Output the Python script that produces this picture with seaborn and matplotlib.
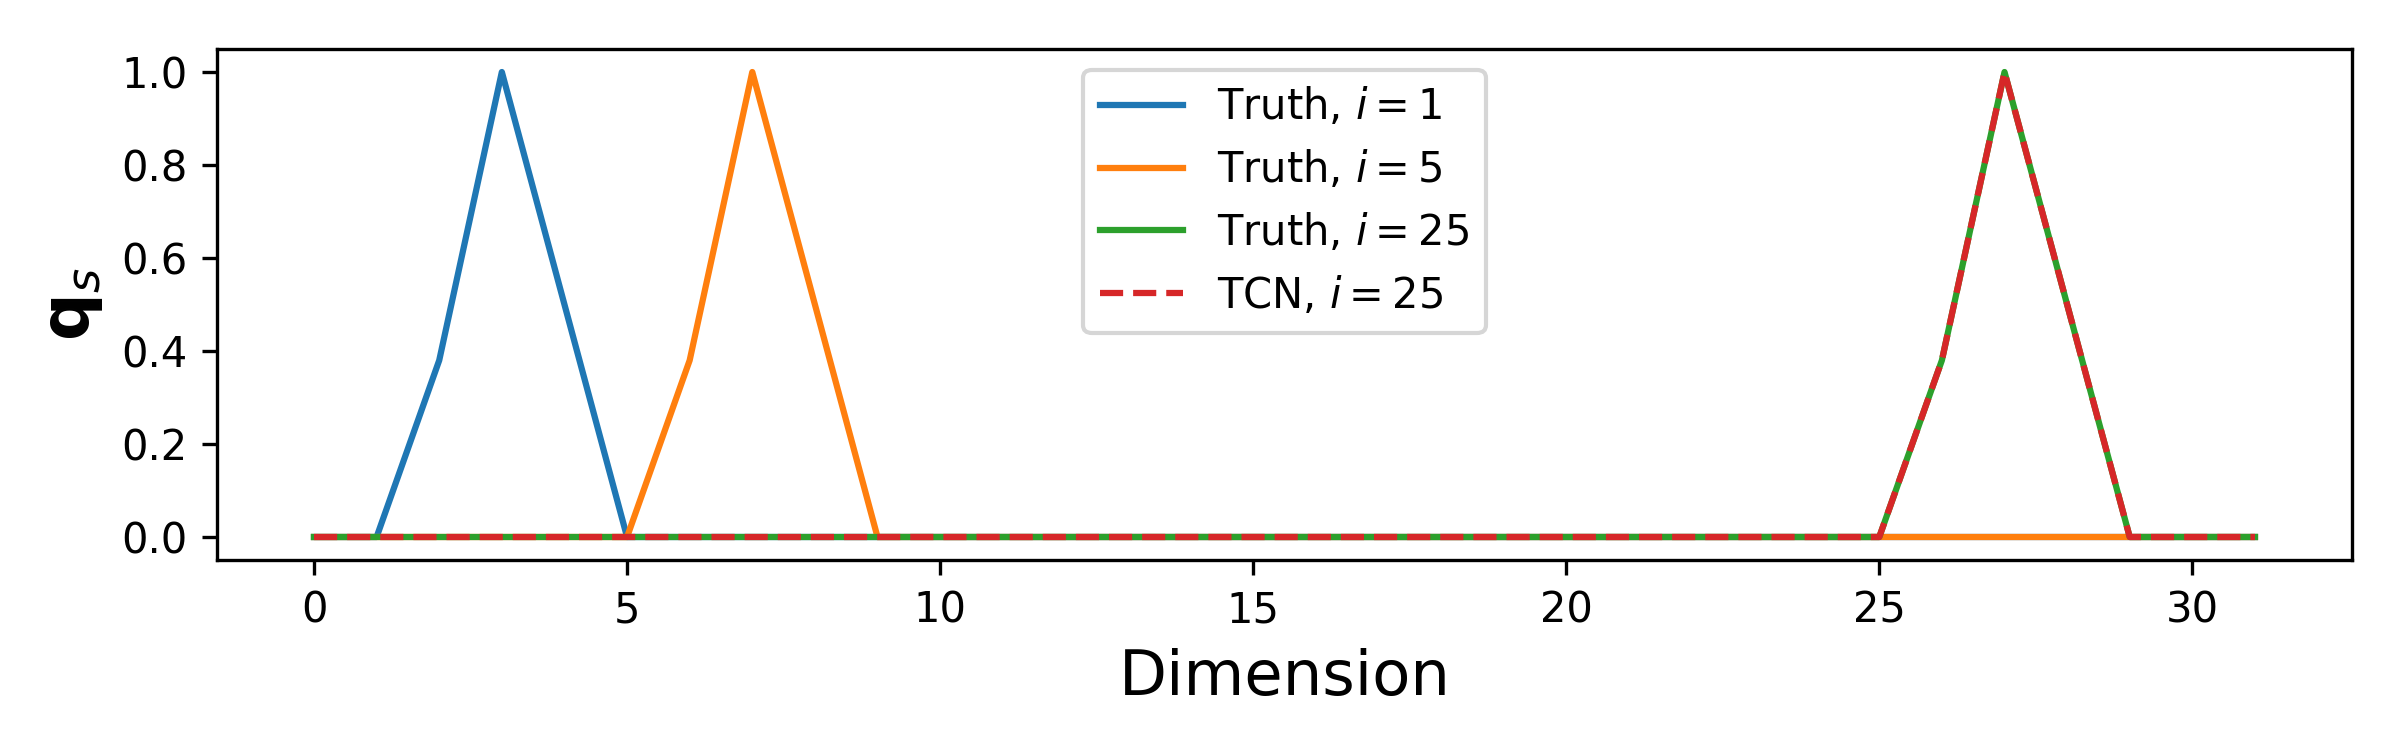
import numpy as np
import matplotlib
matplotlib.use("Agg")
import matplotlib.pyplot as plt
import seaborn as sns

# dimension index 0..31
dims = list(range(32))

# triangular bumps
truth_i1 = [0, 0, 0.38, 1.0, 0.5, 0] + [0] * 26
truth_i5 = [0] * 5 + [0, 0.38, 1.0, 0.5, 0] + [0] * 22
truth_i25 = [0] * 25 + [0, 0.38, 1.0, 0.5, 0] + [0] * 2
tcn_i25 = [0] * 25 + [0, 0.38, 1.0, 0.5, 0] + [0] * 2

series = [
    (truth_i1, "Truth, $i=1$", "tab:blue", "-"),
    (truth_i5, "Truth, $i=5$", "tab:orange", "-"),
    (truth_i25, "Truth, $i=25$", "tab:green", "-"),
    (tcn_i25, "TCN, $i=25$", "tab:red", "--"),
]

fig, ax = plt.subplots(figsize=(8, 2.5), dpi=300)

for values, label, color, ls in series:
    sns.lineplot(x=dims, y=values, ax=ax, label=label, color=color,
                 linestyle=ls, linewidth=1.5)

ax.set_xlabel("Dimension", fontsize=15)
ax.set_ylabel(r"$\mathbf{q}_s$", fontsize=16)
ax.legend(loc="upper center", fontsize=10)

fig.subplots_adjust(left=0.0904, right=0.980, bottom=0.253, top=0.935)
fig.savefig("out.png", dpi=300)
